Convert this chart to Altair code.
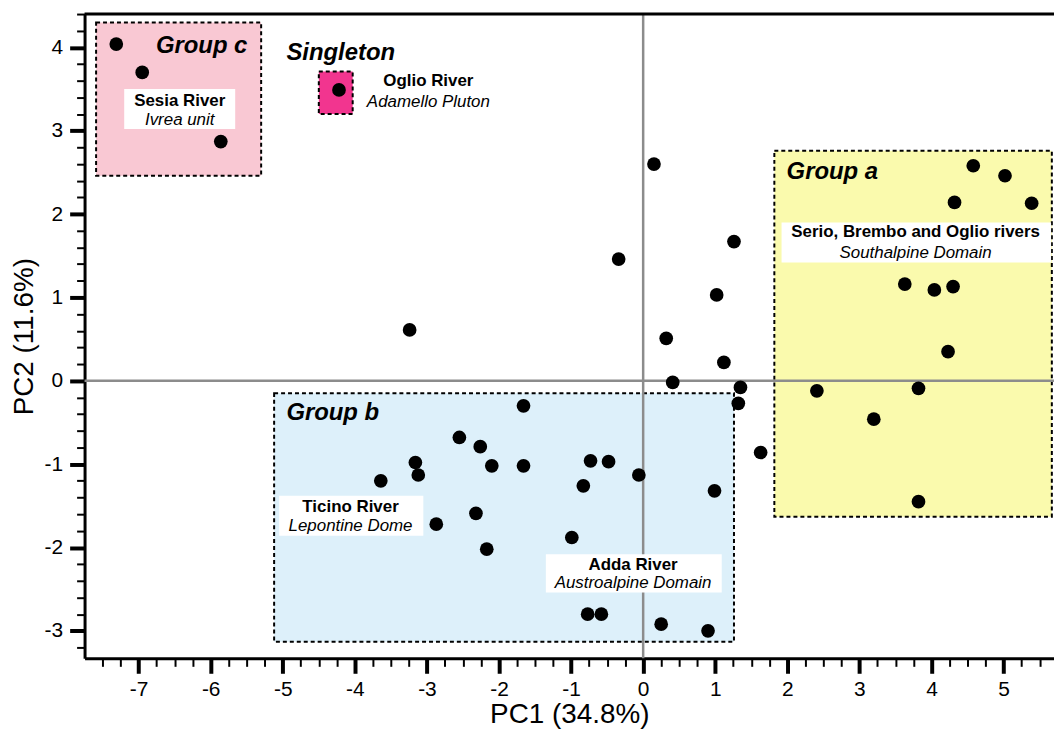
import altair as alt
import pandas as pd

# ---------------- data ----------------
pc1 = [
    # group c
    -7.31, -6.95, -5.86,
    # singleton
    -4.22,
    # unassigned
    0.15, 1.26, -0.34, 1.02, -3.24, 0.32, 1.12, 0.41, 1.35, 1.32, 1.63,
    # group b
    -1.66, -2.55, -2.26, -3.16, -3.12, -3.64, -2.10, -1.66, -0.73, -0.48, -0.06,
    -0.83, 0.99, -2.32, -2.87, -0.99, -2.17, -0.77, -0.58, 0.25, 0.90,
    # group a
    4.58, 5.02, 4.32, 5.39, 3.63, 4.04, 4.30, 4.23, 3.82, 2.41, 3.20, 3.82,
]
pc2 = [
    4.04, 3.70, 2.87,
    3.49,
    2.60, 1.67, 1.46, 1.03, 0.61, 0.51, 0.22, -0.02, -0.08, -0.27, -0.86,
    -0.30, -0.68, -0.79, -0.98, -1.13, -1.20, -1.02, -1.02, -0.96, -0.97, -1.13,
    -1.26, -1.32, -1.59, -1.72, -1.88, -2.02, -2.80, -2.80, -2.92, -3.00,
    2.58, 2.46, 2.14, 2.13, 1.16, 1.09, 1.13, 0.35, -0.09, -0.12, -0.46, -1.45,
]

# group regions (dashed boxes)
box_names = ["Group c", "Singleton", "Group a", "Group b"]
box_x1 = [-7.59, -4.50, 1.82, -5.12]
box_x2 = [-5.30, -4.03, 5.67, 1.26]
box_y1 = [2.46, 3.20, -1.63, -3.13]
box_y2 = [4.30, 3.71, 2.76, -0.15]
box_fill = ["#F9C8D3", "#F2358F", "#FAFAAD", "#DDF0FA"]

# white label backgrounds
lab_x1 = [-7.20, 1.92, -5.05, -1.35]
lab_x2 = [-5.66, 5.66, -3.05, 1.09]
lab_y1 = [3.02, 1.42, -1.86, -2.54]
lab_y2 = [3.50, 1.90, -1.38, -2.08]

# group titles (bold italic)
grp_text = ["Group c", "Singleton", "Group a", "Group b"]
grp_x = [-6.76, -4.95, 1.99, -4.95]
grp_y = [4.02, 3.93, 2.51, -0.39]

# river names (bold) and geological units (italic)
river_text = ["Sesia River", "Oglio River", "Serio, Brembo and Oglio rivers",
              "Ticino River", "Adda River"]
unit_text = ["Ivrea unit", "Adamello Pluton", "Southalpine Domain",
             "Lepontine Dome", "Austroalpine Domain"]
river_x = [-6.43, -2.98, 3.78, -4.06, -0.14]
river_y = [3.36, 3.60, 1.78, -1.52, -2.21]
unit_y = [3.13, 3.35, 1.53, -1.74, -2.43]

X_DOMAIN = [-7.75, 5.70]
Y_DOMAIN = [-3.33, 4.40]
x_ticks = [round(-7.5 + 0.25 * i, 2) for i in range(53)]
y_ticks = [round(-3.2 + 0.2 * i, 2) for i in range(39)]

# ---------------- tables ----------------
pts = pd.DataFrame({"pc1": pc1, "pc2": pc2})
boxes = pd.DataFrame({"name": box_names, "x1": box_x1, "x2": box_x2,
                      "y1": box_y1, "y2": box_y2, "fill": box_fill})
labs = pd.DataFrame({"x1": lab_x1, "x2": lab_x2, "y1": lab_y1, "y2": lab_y2})
grps = pd.DataFrame({"t": grp_text, "x": grp_x, "y": grp_y})
rivers = pd.DataFrame({"t": river_text, "x": river_x, "y": river_y})
units = pd.DataFrame({"t": unit_text, "x": river_x, "y": unit_y})
zero = pd.DataFrame({"v": [0.0]})
topb = pd.DataFrame({"v": [Y_DOMAIN[1]]})

FONT = "Liberation Sans"
xscale = alt.Scale(domain=X_DOMAIN, nice=False, zero=False)
yscale = alt.Scale(domain=Y_DOMAIN, nice=False, zero=False)

is_int = "datum.value % 1 === 0"
common_axis = dict(
    labelExpr=f"{is_int} ? '' + datum.value : ''",
    tickSize={"condition": {"test": is_int, "value": 15}, "value": 8},
    tickWidth={"condition": {"test": is_int, "value": 4}, "value": 2},
    tickColor="black", domainColor="black", domainWidth=3,
    labelFont=FONT, labelFontSize=21, labelColor="black",
    titleFont=FONT, titleFontSize=28, titleFontWeight="normal", titleColor="black",
    grid=False, labelOverlap=False, labelFlush=False,
)
x_axis = alt.Axis(values=x_ticks, title="PC1 (34.8%)", titlePadding=2,
                  labelPadding=5, **common_axis)
y_axis = alt.Axis(values=y_ticks, title="PC2 (11.6%)", titlePadding=6,
                  labelPadding=7, **common_axis)


def X(field):
    return alt.X(field, scale=xscale, axis=x_axis)


def Y(field):
    return alt.Y(field, scale=yscale, axis=y_axis)


box_layer = alt.Chart(boxes).mark_rect(
    stroke="black", strokeWidth=2, strokeDash=[4, 3]
).encode(
    x=X("x1:Q"), x2="x2:Q",
    y=Y("y1:Q"), y2="y2:Q",
    fill=alt.Fill("fill:N", scale=None),
)

vline = alt.Chart(zero).mark_rule(color="#8c8c8c", strokeWidth=2.5).encode(x=X("v:Q"))
hline = alt.Chart(zero).mark_rule(color="#8c8c8c", strokeWidth=2.5).encode(y=Y("v:Q"))
top_line = alt.Chart(topb).mark_rule(color="black", strokeWidth=3).encode(y=Y("v:Q"))

lab_layer = alt.Chart(labs).mark_rect(fill="white").encode(
    x=X("x1:Q"), x2="x2:Q", y=Y("y1:Q"), y2="y2:Q",
)

grp_layer = alt.Chart(grps).mark_text(
    font=FONT, fontSize=24, fontWeight="bold", fontStyle="italic",
    align="left", baseline="middle", color="black"
).encode(x=X("x:Q"), y=Y("y:Q"), text="t:N")

river_layer = alt.Chart(rivers).mark_text(
    font=FONT, fontSize=17, fontWeight="bold",
    align="center", baseline="middle", color="black"
).encode(x=X("x:Q"), y=Y("y:Q"), text="t:N")

unit_layer = alt.Chart(units).mark_text(
    font=FONT, fontSize=17, fontStyle="italic",
    align="center", baseline="middle", color="black"
).encode(x=X("x:Q"), y=Y("y:Q"), text="t:N")

pt_layer = alt.Chart(pts).mark_circle(size=190, color="black", opacity=1).encode(
    x=X("pc1:Q"), y=Y("pc2:Q"),
)

chart = alt.layer(
    box_layer, vline, hline, lab_layer, top_line,
    grp_layer, river_layer, unit_layer, pt_layer
).properties(
    width=975, height=648,
    padding={"left": 77, "top": 4, "right": 0, "bottom": 76},
    autosize=alt.AutoSizeParams(type="none"),
    background="white",
).configure_view(stroke=None)

chart.save("out.html", embed_options={"renderer": "svg", "actions": False})
